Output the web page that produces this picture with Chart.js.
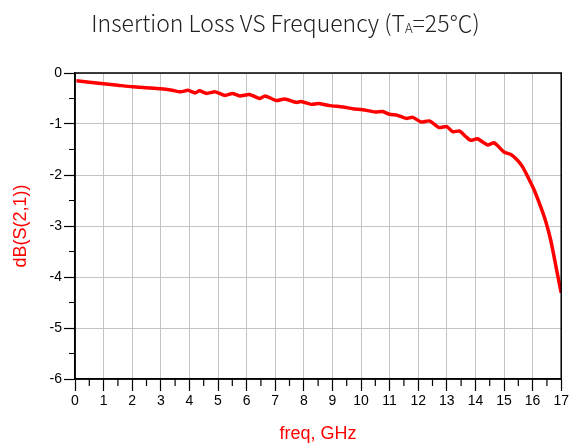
<!DOCTYPE html>
<html>
<head>
<meta charset="utf-8">
<script src="https://cdn.jsdelivr.net/npm/chart.js@4/dist/chart.umd.min.js"></script>
<style>
  html, body { margin: 0; padding: 0; background: #fff; }
  #wrap { position: relative; width: 571px; height: 446px; }
  #title {
    position: absolute; left: 0; top: 6px; width: 571px; text-align: center;
    font-family: "Noto Sans CJK SC", "Noto Sans", sans-serif; font-size: 23px;
    font-weight: 300; color: #222; white-space: nowrap; line-height: 32px;
  }
  #title sub { font-size: 13px; vertical-align: -1px; }
</style>
</head>
<body>
<div id="wrap">
  <div id="title">Insertion Loss VS Frequency (T<sub>A</sub>=25℃)</div>
  <canvas id="chart" width="571" height="446"></canvas>
</div>
<script>
// S21 trace (GHz, dB)
const freq = [0.05, 0.5, 1.0, 1.5, 2.0, 2.5, 3.0, 3.4, 3.7, 3.95, 4.2, 4.35, 4.6, 4.9, 5.25, 5.5,
  5.76, 6.1, 6.45, 6.65, 7.04, 7.33, 7.74, 7.91, 8.26, 8.5, 8.9, 9.37, 9.71, 10.06, 10.5, 10.76,
  11.0, 11.28, 11.58, 11.81, 12.1, 12.39, 12.74, 13.0, 13.2, 13.45, 13.67, 13.84, 14.07, 14.42,
  14.66, 15.0, 15.24, 15.47, 15.65, 15.8, 16.05, 16.28, 16.46, 16.63, 16.75, 16.86, 17.0];
const s21 = [-0.15, -0.18, -0.21, -0.24, -0.27, -0.29, -0.31, -0.34, -0.37, -0.34, -0.39, -0.35, -0.40, -0.37, -0.44, -0.40,
  -0.45, -0.42, -0.50, -0.45, -0.54, -0.51, -0.576, -0.56, -0.615, -0.60, -0.64, -0.667, -0.70, -0.72, -0.765, -0.755,
  -0.81, -0.83, -0.89, -0.87, -0.96, -0.94, -1.07, -1.05, -1.15, -1.14, -1.25, -1.32, -1.29, -1.41,
  -1.37, -1.55, -1.60, -1.71, -1.84, -2.0, -2.29, -2.62, -2.91, -3.27, -3.6, -3.92, -4.31];

const xTicks = [0, 1, 2, 3, 4, 5, 6, 7, 8, 9, 10, 11, 12, 13, 14, 15, 16, 17];
const yTicks = [0, -1, -2, -3, -4, -5, -6];

const tickFont = { family: "Liberation Sans, Arial, sans-serif", size: 14 };
const axisFont = { family: "Liberation Sans, Arial, sans-serif", size: 18 };

// frame on top/right and the short half-step ticks
const framePlugin = {
  id: "frame",
  afterDraw(chart) {
    const { ctx, chartArea: a, scales: { x, y } } = chart;
    ctx.save();
    ctx.strokeStyle = "#000";
    ctx.lineWidth = 1.5;
    ctx.strokeRect(a.left, a.top, a.right - a.left, a.bottom - a.top);
    ctx.lineWidth = 1.2;
    ctx.beginPath();
    for (let i = 0; i < xTicks.length - 1; i++) {
      const px = x.getPixelForValue(xTicks[i] + 0.5);
      ctx.moveTo(px, a.bottom);
      ctx.lineTo(px, a.bottom + 7);
    }
    for (let i = 0; i < yTicks.length - 1; i++) {
      const py = y.getPixelForValue(yTicks[i] - 0.5);
      ctx.moveTo(a.left, py);
      ctx.lineTo(a.left - 6, py);
    }
    ctx.stroke();
    ctx.restore();
  }
};

new Chart(document.getElementById("chart"), {
  type: "line",
  data: {
    datasets: [{
      data: freq.map((f, i) => ({ x: f, y: s21[i] })),
      borderColor: "#ff0000",
      borderWidth: 3.5,
      pointRadius: 0,
      tension: 0.2,
      fill: false
    }]
  },
  options: {
    responsive: false,
    animation: false,
    layout: { padding: { top: 73, right: 9, left: 0, bottom: 0 } },
    plugins: { legend: { display: false }, tooltip: { enabled: false } },
    scales: {
      x: {
        type: "linear", min: 0, max: 17,
        afterBuildTicks: s => { s.ticks = xTicks.map(v => ({ value: v })); },
        afterFit: s => { s.height = 67; },
        ticks: { font: tickFont, color: "#000", padding: 2, maxRotation: 0 },
        grid: { color: "#c4c4c4", lineWidth: 1, tickColor: "#000", tickLength: 12, tickWidth: 1.2 },
        border: { color: "#000", width: 1.5 },
        title: { display: true, text: "freq, GHz", color: "#ff0000", font: axisFont, padding: { top: 0, bottom: 1 } }
      },
      y: {
        type: "linear", min: -6, max: 0,
        afterBuildTicks: s => { s.ticks = yTicks.map(v => ({ value: v })); },
        afterFit: s => { s.width = 75; },
        ticks: { font: tickFont, color: "#000", padding: 2 },
        grid: { color: "#c4c4c4", lineWidth: 1, tickColor: "#000", tickLength: 11, tickWidth: 1.2 },
        border: { color: "#000", width: 1.5 },
        title: { display: true, text: "dB(S(2,1))", color: "#ff0000", font: axisFont, padding: { top: 10, bottom: 0 } }
      }
    }
  },
  plugins: [framePlugin]
});
</script>
</body>
</html>
